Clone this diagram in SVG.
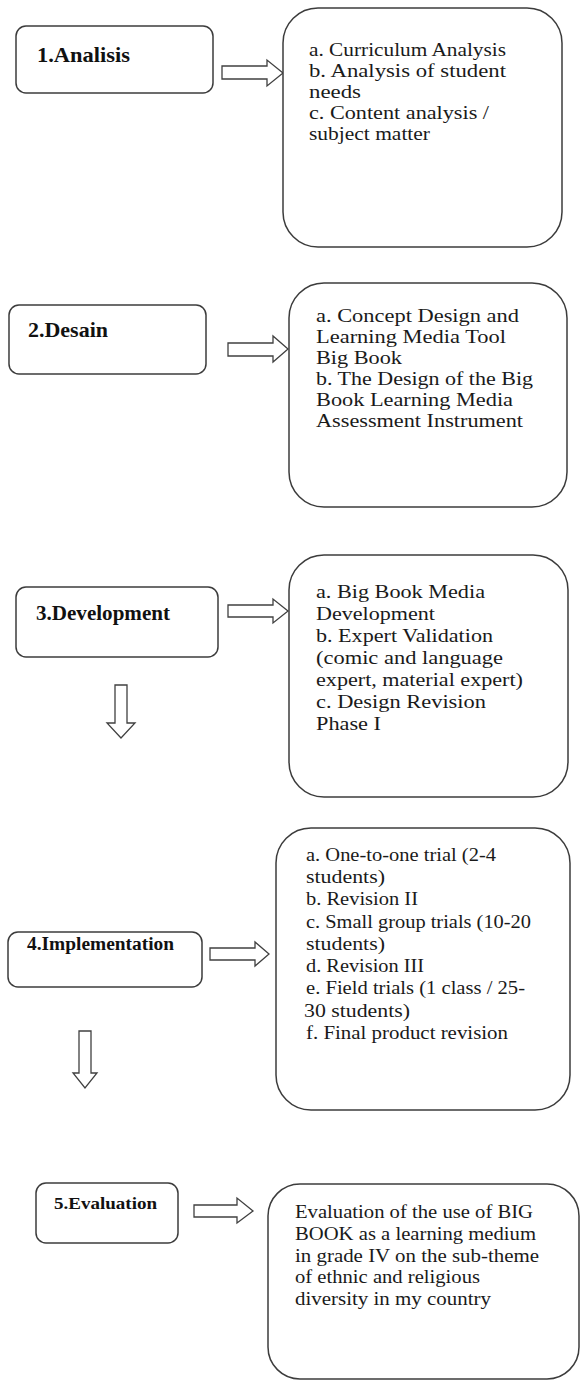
<svg xmlns="http://www.w3.org/2000/svg" width="581" height="1381" viewBox="0 0 581 1381">
<style>
.box{fill:#fff;stroke:#3c3c3c;stroke-width:1.5}
.arr{fill:#fff;stroke:#404040;stroke-width:1.3;stroke-linejoin:miter}
.lbl{font-family:"Liberation Serif","Times New Roman",serif;font-weight:bold;fill:#111}
.txt{font-family:"Liberation Serif","Times New Roman",serif;font-size:18px;fill:#1a1a1a}
</style>
<rect width="581" height="1381" fill="#fff"/>
<g id="connectors">
<polygon class="arr" points="222,66 267,66 267,60 283,73 267,86 267,79 222,79"/>
<polygon class="arr" points="228,343 273,343 273,336 288,349 273,362 273,356 228,356"/>
<polygon class="arr" points="228,605 273,605 273,599 288,611 273,623 273,617 228,617"/>
<polygon class="arr" points="115,685 127,685 127,723 135,723 121,738 107,723 115,723"/>
<polygon class="arr" points="210,948 255,948 255,942 269,954 255,966 255,960 210,960"/>
<polygon class="arr" points="79,1031 91,1031 91,1073 97,1073 85,1088 73,1073 79,1073"/>
<polygon class="arr" points="194,1205 237,1205 237,1198 253,1211 237,1223 237,1217 194,1217"/>
</g>
<g id="n1">
<rect class="box" x="16" y="26" width="197" height="67" rx="10"/>
<text class="lbl" x="37" y="62" font-size="22" textLength="93" lengthAdjust="spacingAndGlyphs">1.Analisis</text>
</g>
<g id="d1">
<rect class="box" x="283" y="8" width="279" height="239" rx="35"/>
<text class="txt" x="309" y="56" textLength="197" lengthAdjust="spacingAndGlyphs">a. Curriculum  Analysis</text>
<text class="txt" x="309" y="77" textLength="197" lengthAdjust="spacingAndGlyphs">b. Analysis of student</text>
<text class="txt" x="309" y="98" textLength="52" lengthAdjust="spacingAndGlyphs">needs</text>
<text class="txt" x="309" y="119" textLength="180" lengthAdjust="spacingAndGlyphs">c. Content analysis /</text>
<text class="txt" x="309" y="140" textLength="121" lengthAdjust="spacingAndGlyphs">subject matter</text>
</g>
<g id="n2">
<rect class="box" x="9" y="305" width="197" height="69" rx="10"/>
<text class="lbl" x="28" y="337" font-size="21" textLength="80" lengthAdjust="spacingAndGlyphs">2.Desain</text>
</g>
<g id="d2">
<rect class="box" x="289" y="283" width="278" height="224" rx="35"/>
<text class="txt" x="316" y="322" textLength="203" lengthAdjust="spacingAndGlyphs">a. Concept Design and</text>
<text class="txt" x="316" y="343" textLength="190" lengthAdjust="spacingAndGlyphs">Learning Media Tool</text>
<text class="txt" x="316" y="364" textLength="86" lengthAdjust="spacingAndGlyphs">Big Book</text>
<text class="txt" x="316" y="385" textLength="217" lengthAdjust="spacingAndGlyphs">b. The Design of the Big</text>
<text class="txt" x="316" y="406" textLength="197" lengthAdjust="spacingAndGlyphs">Book Learning Media</text>
<text class="txt" x="316" y="427" textLength="207" lengthAdjust="spacingAndGlyphs">Assessment Instrument</text>
</g>
<g id="n3">
<rect class="box" x="16" y="587" width="202" height="70" rx="10"/>
<text class="lbl" x="36" y="620" font-size="21" textLength="134" lengthAdjust="spacingAndGlyphs">3.Development</text>
</g>
<g id="d3">
<rect class="box" x="289" y="555" width="279" height="242" rx="35"/>
<text class="txt" x="316" y="598" textLength="169" lengthAdjust="spacingAndGlyphs">a. Big Book Media</text>
<text class="txt" x="316" y="620" textLength="119" lengthAdjust="spacingAndGlyphs">Development</text>
<text class="txt" x="316" y="642" textLength="177" lengthAdjust="spacingAndGlyphs">b. Expert Validation</text>
<text class="txt" x="316" y="664" textLength="187" lengthAdjust="spacingAndGlyphs">(comic and language</text>
<text class="txt" x="316" y="686" textLength="207" lengthAdjust="spacingAndGlyphs">expert, material expert)</text>
<text class="txt" x="316" y="708" textLength="170" lengthAdjust="spacingAndGlyphs">c. Design Revision</text>
<text class="txt" x="316" y="730" textLength="65" lengthAdjust="spacingAndGlyphs">Phase I</text>
</g>
<g id="n4">
<rect class="box" x="8" y="932" width="194" height="55" rx="10"/>
<text class="lbl" x="27" y="950" font-size="18" textLength="147" lengthAdjust="spacingAndGlyphs">4.Implementation</text>
</g>
<g id="d4">
<rect class="box" x="276" y="828" width="294" height="282" rx="35"/>
<text class="txt" x="306" y="861" textLength="190" lengthAdjust="spacingAndGlyphs">a. One-to-one trial (2-4</text>
<text class="txt" x="306" y="883" textLength="79" lengthAdjust="spacingAndGlyphs">students)</text>
<text class="txt" x="306" y="905" textLength="112" lengthAdjust="spacingAndGlyphs">b. Revision II</text>
<text class="txt" x="306" y="928" textLength="225" lengthAdjust="spacingAndGlyphs">c. Small group trials (10-20</text>
<text class="txt" x="306" y="950" textLength="79" lengthAdjust="spacingAndGlyphs">students)</text>
<text class="txt" x="306" y="972" textLength="118" lengthAdjust="spacingAndGlyphs">d. Revision III</text>
<text class="txt" x="306" y="994" textLength="219" lengthAdjust="spacingAndGlyphs">e. Field trials (1 class / 25-</text>
<text class="txt" x="304" y="1017" textLength="106" lengthAdjust="spacingAndGlyphs">30 students)</text>
<text class="txt" x="306" y="1039" textLength="202" lengthAdjust="spacingAndGlyphs">f. Final product revision</text>
</g>
<g id="n5">
<rect class="box" x="36" y="1183" width="142" height="60" rx="10"/>
<text class="lbl" x="54" y="1209" font-size="17.5" textLength="103" lengthAdjust="spacingAndGlyphs">5.Evaluation</text>
</g>
<g id="d5">
<rect class="box" x="268" y="1184" width="311" height="195" rx="32"/>
<text class="txt" x="295" y="1218" textLength="238" lengthAdjust="spacingAndGlyphs">Evaluation of the use of BIG</text>
<text class="txt" x="295" y="1240" textLength="241" lengthAdjust="spacingAndGlyphs">BOOK as a learning medium</text>
<text class="txt" x="295" y="1262" textLength="244" lengthAdjust="spacingAndGlyphs">in grade IV on the sub-theme</text>
<text class="txt" x="295" y="1283" textLength="185" lengthAdjust="spacingAndGlyphs">of ethnic and religious</text>
<text class="txt" x="295" y="1305" textLength="196" lengthAdjust="spacingAndGlyphs">diversity in my country</text>
</g>
</svg>
